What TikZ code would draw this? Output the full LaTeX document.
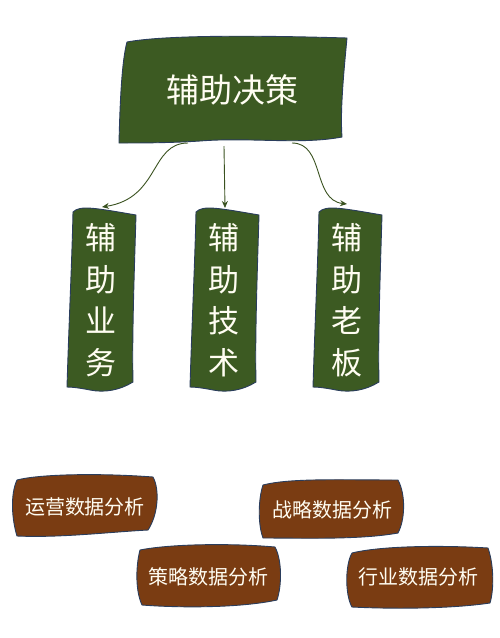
\documentclass[tikz,border=0pt]{standalone}
\usepackage{fontspec}
\setmainfont{Noto Sans CJK SC}
\usetikzlibrary{arrows.meta}
\definecolor{boxgreen}{HTML}{3C5A22}
\definecolor{boxbrown}{HTML}{7A3C12}
\definecolor{edgeblue}{HTML}{2A3D5C}
\definecolor{arrowgreen}{HTML}{3A5220}
\definecolor{txtwhite}{HTML}{FFFDF2}
\tikzset{
  greenbox/.style={fill=boxgreen, draw=edgeblue, line width=0.9pt},
  brownbox/.style={fill=boxbrown, draw=edgeblue, line width=0.9pt},
  bigtext/.style={text=txtwhite, font=\fontsize{33}{40}\selectfont, inner sep=0pt},
  coltext/.style={text=txtwhite, font=\fontsize{31}{41.5}\selectfont, align=center, inner sep=0pt},
  smalltext/.style={text=txtwhite, font=\fontsize{20}{24}\selectfont, inner sep=0pt},
  frame/.style={minimum width=#1, minimum height=180pt, inner sep=0pt},
  conn/.style={draw=arrowgreen, line width=0.9pt, -{Stealth[length=7pt,width=6pt]}}
}
\begin{document}
\begin{tikzpicture}[x=1pt,y=-1pt]
\useasboundingbox (0,0) rectangle (500,638);
% top box
\path[greenbox] (127,42) .. controls (170,34) and (280,36) .. (347,38)
  .. controls (344,70) and (340,110) .. (342,137)
  .. controls (300,145) and (250,137) .. (200,141)
  .. controls (170,143) and (140,143) .. (119,143)
  .. controls (120,100) and (122,60) .. cycle;
\node[bigtext] (top) at (232,90) {辅助决策};
% vertical boxes
\foreach \dx in {0,123,246}{
  \path[greenbox,xshift=\dx] (73,212) .. controls (80,205) and (95,208) .. (136,215)
    .. controls (134,280) and (132,340) .. (133,382)
    .. controls (120,390) and (105,393) .. (90,390)
    .. controls (80,388) and (72,387) .. (67,387)
    .. controls (69,320) and (72,260) .. cycle;
}
\node[coltext] (t1) at (101,300) {辅\\助\\业\\务};
\node[coltext] (t2) at (224,300) {辅\\助\\技\\术};
\node[coltext] (t3) at (347,300) {辅\\助\\老\\板};
\coordinate (s1) at (188,143);
\coordinate (s2) at (224,146);
\coordinate (s3) at (292,143);
\coordinate (e1) at (102,207);
\coordinate (e2) at (225,208);
\coordinate (e3) at (347,204);
\draw[conn] (s1) .. controls (150,143) and (160,198) .. (e1);
\draw[conn] (s2) -- (e2);
\draw[conn] (s3) .. controls (325,143) and (312,200) .. (e3);
% bottom boxes
\path[brownbox] (17,480) .. controls (40,474) and (100,473) .. (153,477)
  .. controls (160,490) and (158,515) .. (148,530)
  .. controls (110,532) and (60,538) .. (17,536)
  .. controls (12,520) and (10,495) .. cycle;
\node[smalltext] (n1) at (85,507) {运营数据分析};
\path[brownbox] (263,485) .. controls (290,478) and (340,480) .. (398,480)
  .. controls (406,495) and (405,520) .. (398,533)
  .. controls (360,540) and (300,538) .. (263,538)
  .. controls (258,525) and (258,500) .. cycle;
\node[smalltext] (n2) at (332,510) {战略数据分析};
\path[brownbox] (140,550) .. controls (170,544) and (230,543) .. (275,547)
  .. controls (282,560) and (282,585) .. (277,600)
  .. controls (240,608) and (180,608) .. (142,605)
  .. controls (135,590) and (136,565) .. cycle;
\node[smalltext] (n3) at (208,577) {策略数据分析};
\path[brownbox] (352,553) .. controls (380,546) and (440,545) .. (488,548)
  .. controls (494,565) and (494,590) .. (490,603)
  .. controls (450,609) and (390,609) .. (352,607)
  .. controls (345,595) and (345,565) .. cycle;
\node[smalltext] (n4) at (418,577) {行业数据分析};
\end{tikzpicture}
\end{document}
